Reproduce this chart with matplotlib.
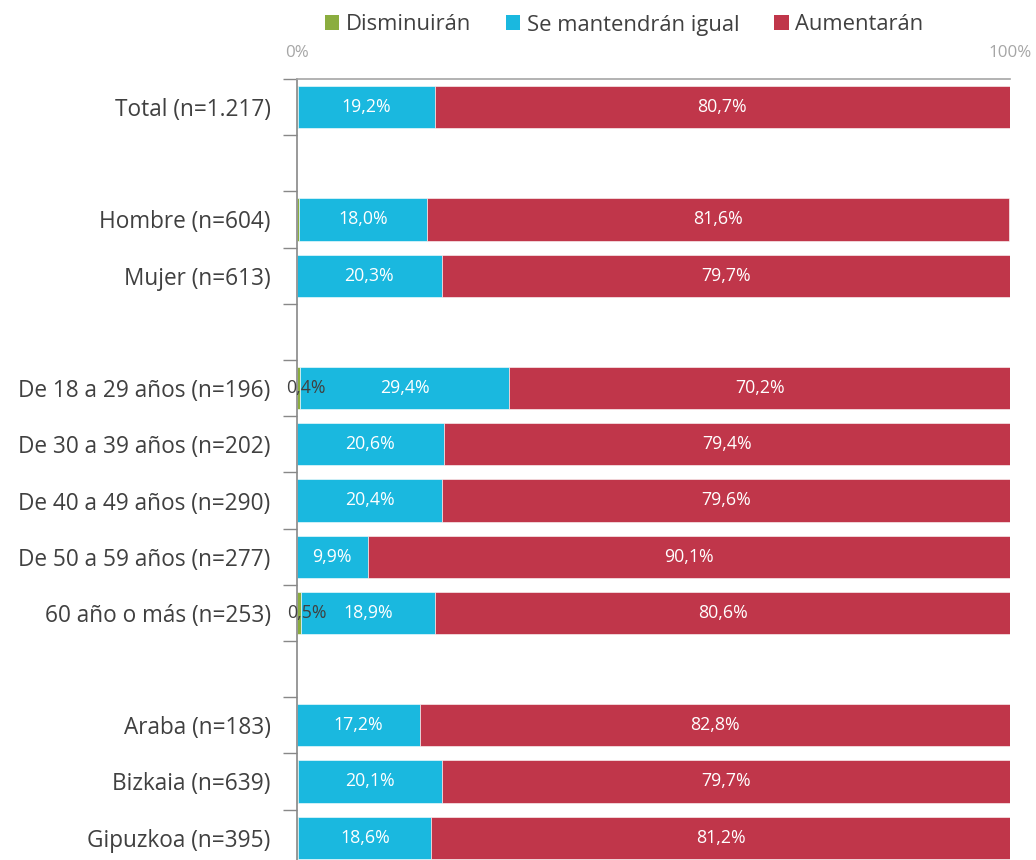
import matplotlib
matplotlib.use("Agg")
import matplotlib.pyplot as plt
from matplotlib.patches import Patch

plt.rcParams['font.family'] = ['Open Sans', 'DejaVu Sans']

categories = ["Total (n=1.217)", "", "Hombre (n=604)", "Mujer (n=613)", "",
              "De 18 a 29 años (n=196)", "De 30 a 39 años (n=202)", "De 40 a 49 años (n=290)",
              "De 50 a 59 años (n=277)", "60 año o más (n=253)", "",
              "Araba (n=183)", "Bizkaia (n=639)", "Gipuzkoa (n=395)"]
disminuiran = [0.1, None, 0.3, 0.0, None, 0.4, 0.0, 0.0, 0.0, 0.5, None, 0.0, 0.2, 0.2]
igual       = [19.2, None, 18.0, 20.3, None, 29.4, 20.6, 20.4, 9.9, 18.9, None, 17.2, 20.1, 18.6]
aumentaran  = [80.7, None, 81.6, 79.7, None, 70.2, 79.4, 79.6, 90.1, 80.6, None, 82.8, 79.7, 81.2]
series_names = ["Disminuirán", "Se mantendrán igual", "Aumentarán"]
colors = ["#8BAD3F", "#1AB8DF", "#C0364A"]

W, H = 1036, 860
fig = plt.figure(figsize=(W / 100, H / 100), dpi=100)
n = len(categories)
row_h = 56.2
top_px = 79
left_px, right_px = 297, 1010
bottom_px = top_px + n * row_h
ax = fig.add_axes([left_px / W, 1 - bottom_px / H, (right_px - left_px) / W, (bottom_px - top_px) / H])

bar_h = 0.75
for i in range(n):
    if igual[i] is None:
        continue
    vals = [disminuiran[i], igual[i], aumentaran[i]]
    left = 0
    for j, v in enumerate(vals):
        if v > 0:
            ax.barh(i, v, left=left, height=bar_h, color=colors[j], edgecolor='white', linewidth=0.4)
            if j == 0:
                if v >= 0.35:
                    ax.text(left + v / 2 + 1.1, i, f"{v:.1f}%".replace('.', ','), ha='center', va='center',
                            fontsize=12.8, color='#404040')
            else:
                ax.text(left + v / 2, i, f"{v:.1f}%".replace('.', ','), ha='center', va='center',
                        fontsize=12.8, color='white')
        left += v

ax.set_xlim(0, 100)
ax.set_ylim(n - 0.5, -0.5)
ax.set_yticks(range(n))
ax.set_yticklabels(categories, fontsize=16.3, color='#404040')
ax.tick_params(axis='y', which='major', length=0, pad=19)
ax.set_yticks([k + 0.5 for k in range(-1, n)], minor=True)
ax.tick_params(axis='y', which='minor', length=10, color='#888888', width=1)

ax.xaxis.tick_top()
ax.set_xticks([0, 100])
ax.set_xticklabels(["0%", "100%"], fontsize=12.2, color='#A6A6A6')
ax.tick_params(axis='x', length=0, pad=13)

for s in ['right', 'bottom']:
    ax.spines[s].set_visible(False)
ax.spines['left'].set_color('#888888')
ax.spines['top'].set_color('#A6A6A6')
ax.spines['left'].set_linewidth(1.2)
ax.spines['top'].set_linewidth(1.2)

handles = [Patch(facecolor=c, edgecolor='none') for c in colors]
fig.legend(handles, series_names, loc='center', bbox_to_anchor=(624 / W, 1 - 25 / H), ncol=3,
           frameon=False, fontsize=15.8, handlelength=0.65, handleheight=0.65, handletextpad=0.3,
           columnspacing=1.6, labelcolor='#404040')

fig.savefig("out.png", dpi=100)
